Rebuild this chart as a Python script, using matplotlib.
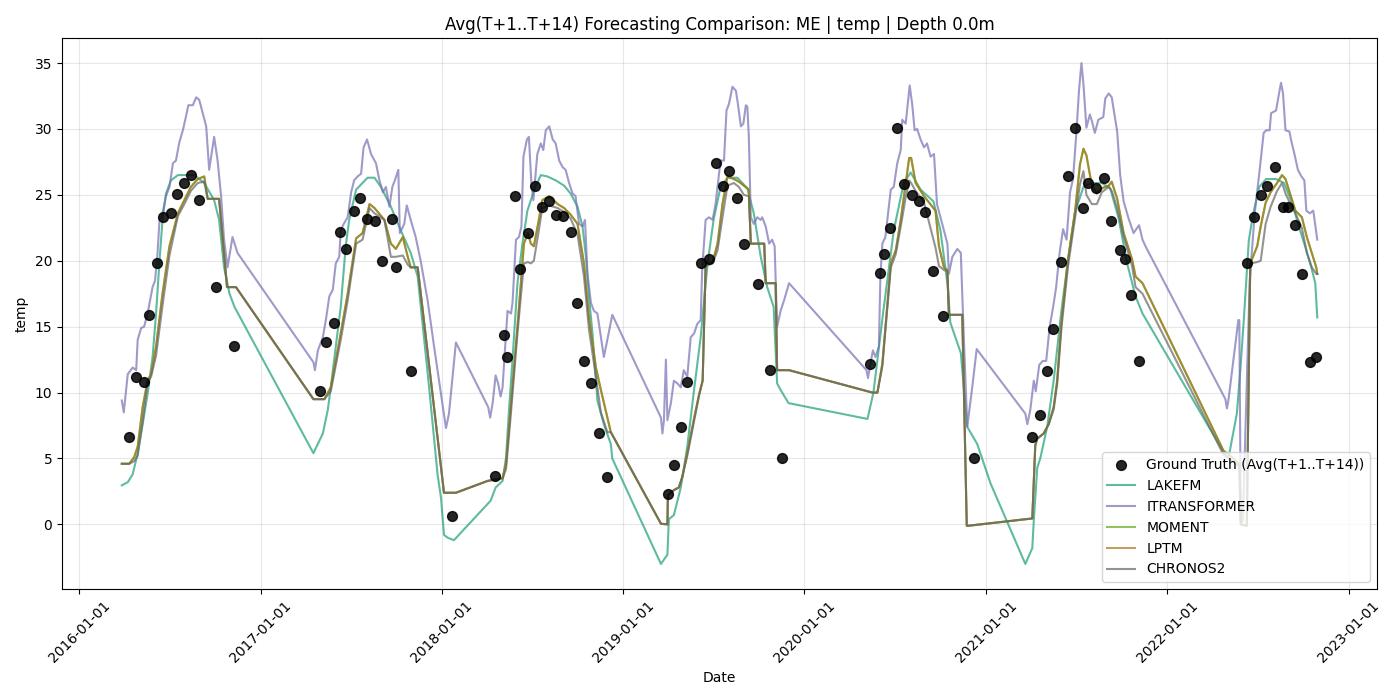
import numpy as np
import matplotlib
matplotlib.use("Agg")
import matplotlib.pyplot as plt
import matplotlib.dates as mdates

# ---------------- data ----------------
# Ground truth (Avg(T+1..T+14))
GT_DATES = ["2016-04-10", "2016-04-25", "2016-05-10", "2016-05-21", "2016-06-06", "2016-06-18",
            "2016-07-04", "2016-07-17", "2016-07-31", "2016-08-13", "2016-08-29", "2016-10-02",
            "2016-11-08",
            "2017-05-01", "2017-05-13", "2017-05-28", "2017-06-10", "2017-06-22", "2017-07-07",
            "2017-07-20", "2017-08-03", "2017-08-20", "2017-09-03", "2017-09-23", "2017-10-01",
            "2017-10-31",
            "2018-01-21", "2018-04-17", "2018-05-06", "2018-05-12", "2018-05-28", "2018-06-08",
            "2018-06-23", "2018-07-07", "2018-07-21", "2018-08-04", "2018-08-19", "2018-09-02",
            "2018-09-17", "2018-09-29", "2018-10-15", "2018-10-28", "2018-11-13", "2018-11-29",
            "2019-04-02", "2019-04-13", "2019-04-27", "2019-05-10", "2019-06-07", "2019-06-22",
            "2019-07-06", "2019-07-20", "2019-08-03", "2019-08-18", "2019-09-02", "2019-09-30",
            "2019-10-24", "2019-11-17",
            "2020-05-13", "2020-06-01", "2020-06-09", "2020-06-21", "2020-07-05", "2020-07-19",
            "2020-08-04", "2020-08-18", "2020-08-30", "2020-09-16", "2020-10-06", "2020-12-07",
            "2021-04-03", "2021-04-19", "2021-05-04", "2021-05-16", "2021-06-01", "2021-06-15",
            "2021-06-30", "2021-07-16", "2021-07-26", "2021-08-11", "2021-08-26", "2021-09-09",
            "2021-09-27", "2021-10-08", "2021-10-20", "2021-11-05",
            "2022-06-11", "2022-06-25", "2022-07-09", "2022-07-21", "2022-08-06", "2022-08-22",
            "2022-09-01", "2022-09-15", "2022-09-29", "2022-10-15", "2022-10-27"]
GT_VALS = [6.6, 11.2, 10.8, 15.9, 19.8, 23.3, 23.6, 25.1, 25.9, 26.5, 24.6, 18.0, 13.5,
           10.1, 13.8, 15.3, 22.2, 20.9, 23.8, 24.8, 23.2, 23.0, 20.0, 23.2, 19.5, 11.6,
           0.6, 3.7, 14.4, 12.7, 24.9, 19.4, 22.1, 25.7, 24.1, 24.5, 23.5, 23.4, 22.2, 16.8,
           12.4, 10.7, 6.9, 3.6,
           2.3, 4.5, 7.4, 10.8, 19.8, 20.1, 27.4, 25.7, 26.8, 24.8, 21.3, 18.2, 11.7, 5.0,
           12.2, 19.1, 20.5, 22.5, 30.1, 25.8, 25.0, 24.5, 23.7, 19.2, 15.8, 5.0,
           6.6, 8.3, 11.6, 14.8, 19.9, 26.4, 30.1, 24.0, 25.9, 25.5, 26.3, 23.0, 20.8, 20.1,
           17.4, 12.4,
           19.8, 23.3, 25.0, 25.7, 27.1, 24.1, 24.1, 22.7, 19.0, 12.3, 12.7]

# Forecast series: dates given as days since 2016-01-01
START_DATE = "2016-01-01"

LAKEFM_DAYS = [86, 98, 108, 118, 128, 138, 148, 155, 162, 168, 175, 185, 199, 232, 252, 272, 282, 292, 303, 313,
               472, 491, 501, 507, 517, 527, 537, 544, 558, 581, 595, 608, 628, 648, 668, 682, 705, 722, 729, 735,
               742, 755,
               829, 839, 853, 860, 866, 873, 883, 893, 903, 917, 930, 943, 960, 977, 990, 1004, 1014, 1021, 1027,
               1034, 1044, 1057, 1071, 1074,
               1172, 1185, 1188, 1198, 1212, 1225, 1238, 1252, 1266, 1278, 1292, 1306, 1326, 1346, 1359, 1373,
               1386, 1399, 1406, 1413, 1429,
               1588, 1600, 1620, 1641, 1661, 1675, 1695, 1721, 1735, 1749, 1755, 1776, 1789, 1809, 1836, 1906,
               1920, 1923,
               1930, 1936, 1950, 1963, 1978, 1992, 2006, 2023, 2040, 2060, 2077, 2094, 2111, 2128, 2142,
               2305, 2315, 2332, 2339, 2346, 2351, 2356, 2364, 2377, 2391, 2411, 2427, 2444, 2457, 2472, 2482,
               2490, 2494]
LAKEFM_VALS = [2.96, 3.2, 3.8, 5.4, 7.6, 9.9, 12.7, 16.0, 20.0, 23.1, 25.1, 26.1, 26.5, 26.5, 25.9, 24.6, 23.1,
               19.5, 17.5, 16.5,
               5.4, 6.9, 8.7, 10.4, 13.5, 16.5, 21.1, 23.1, 25.4, 26.3, 26.3, 25.6, 24.1, 22.3, 20.6, 18.8, 10.4,
               3.8, 2.0, -0.8, -1.0, -1.2,
               1.8, 2.8, 3.3, 5.1, 8.7, 12.5, 18.3, 21.3, 23.8, 25.4, 26.5, 26.4, 26.1, 25.7, 25.1, 24.1, 22.6,
               20.3, 17.3, 14.5, 9.4, 7.6, 6.1, 5.0,
               -3.0, -2.3, 0.4, 0.7, 2.8, 5.9, 10.0, 14.2, 19.8, 23.1, 25.6, 26.3, 26.3, 25.5, 23.6, 20.3, 18.0,
               16.5, 10.7, 10.2, 9.2,
               8.0, 10.0, 16.2, 22.3, 25.9, 26.7, 25.4, 24.5, 22.3, 18.3, 15.3, 13.0, 7.4, 6.1, 3.1, -3.0, -1.8,
               0.3,
               4.3, 5.0, 7.4, 10.9, 16.0, 20.1, 23.7, 25.6, 25.9, 25.9, 25.5, 23.2, 19.8, 17.3, 16.0,
               5.5, 5.0, 8.4, 11.7, 15.5, 18.5, 21.5, 23.4, 25.6, 26.2, 26.2, 25.9, 24.3, 22.6, 20.8, 19.5,
               18.3, 15.7]

ITRANS_DAYS = [86, 90, 98, 108, 115, 118, 125, 131, 138, 148, 153, 158, 162, 168, 175, 182, 189, 195, 202, 209,
               215, 220, 229, 236, 242, 249, 256, 259, 262, 266, 272, 279, 286, 292, 299, 309, 319,
               472, 475, 481, 491, 497, 504, 511, 517, 524, 527, 533, 541, 548, 554, 561, 568, 573, 580, 588,
               598, 605, 612, 618, 625, 631, 636, 643, 646, 655, 660, 668, 678, 688, 702, 715, 729, 739, 745, 759,
               824, 828, 833, 839, 844, 849, 853, 856, 863, 870, 873, 880, 886, 891, 895, 902, 906, 911, 915,
               923, 930, 935, 940, 947, 954, 960, 967, 974, 980, 987, 994, 1000, 1007, 1014, 1019, 1024, 1031,
               1037, 1044, 1051, 1057, 1064, 1074,
               1172, 1175, 1178, 1182, 1185, 1192, 1198, 1205, 1212, 1218, 1225, 1232, 1239, 1245, 1252, 1255,
               1262, 1269, 1276, 1282, 1292, 1299, 1304, 1309, 1316, 1323, 1327, 1333, 1338, 1343, 1346, 1349,
               1353, 1359, 1366, 1373, 1376, 1383, 1390, 1396, 1401, 1406, 1413, 1420, 1430,
               1586, 1589, 1594, 1599, 1604, 1611, 1614, 1618, 1624, 1635, 1641, 1648, 1655, 1658, 1665, 1673,
               1678, 1683, 1688, 1695, 1702, 1708, 1715, 1722, 1728, 1735, 1742, 1749, 1752, 1759, 1769, 1776,
               1782, 1789, 1799, 1808, 1906, 1910, 1916, 1923,
               1927, 1934, 1941, 1948, 1955, 1962, 1968, 1975, 1982, 1989, 1996, 2002, 2009, 2014, 2019, 2023,
               2029, 2036, 2040, 2046, 2053, 2063, 2067, 2074, 2080, 2091, 2097, 2104, 2114, 2124, 2135, 2142,
               2148,
               2309, 2312, 2315, 2335, 2337, 2340, 2344, 2358, 2368, 2378, 2386, 2391, 2398, 2401, 2411, 2417,
               2421, 2425, 2430, 2438, 2441, 2448, 2455, 2462, 2468, 2472, 2479, 2486, 2494]
ITRANS_VALS = [9.4, 8.5, 11.4, 11.9, 11.7, 14.0, 14.9, 15.0, 16.0, 18.0, 18.5, 20.6, 23.1, 23.6, 24.9, 25.6,
               27.4, 27.6, 29.0, 29.9, 30.9, 31.8, 31.8, 32.4, 32.2, 31.2, 30.2, 28.6, 26.9, 27.9, 29.4, 27.6,
               24.9, 21.6, 19.5, 21.8, 20.6,
               12.3, 11.7, 13.2, 14.2, 15.5, 17.3, 17.8, 19.8, 20.3, 22.3, 22.8, 23.3, 25.2, 26.1, 26.4, 26.6,
               28.6, 29.2, 28.1, 27.4, 26.1, 25.2, 25.6, 24.1, 25.6, 26.1, 26.9, 22.1, 22.8, 24.2, 23.1, 21.8,
               20.0, 17.0, 13.5, 9.9, 7.3, 8.4, 13.8,
               8.9, 8.1, 9.2, 11.3, 10.7, 9.7, 10.4, 12.2, 16.2, 16.0, 16.8, 21.6, 21.8, 22.6, 27.9, 29.2, 29.4,
               25.9, 24.6, 28.1, 28.9, 28.4, 29.9, 30.2, 29.2, 28.9, 27.6, 27.1, 26.9, 25.9, 25.1, 24.9, 22.8,
               22.6, 23.1, 19.0, 16.8, 16.2, 16.0, 14.2, 12.7, 14.0, 15.9,
               8.1, 6.9, 7.9, 12.5, 7.9, 9.2, 10.9, 10.7, 10.4, 11.7, 11.2, 14.2, 14.5, 15.2, 15.5, 19.3, 23.1,
               23.3, 23.1, 24.3, 27.6, 27.6, 31.4, 31.9, 33.2, 32.9, 31.9, 30.2, 30.4, 31.8, 31.7, 29.4, 23.3,
               22.8, 23.3, 23.1, 23.3, 22.6, 21.3, 21.6, 21.1, 15.0, 16.2, 17.0, 18.3,
               11.7, 11.1, 12.2, 13.2, 12.7, 13.5, 18.8, 21.3, 21.8, 25.4, 25.6, 27.4, 28.4, 30.7, 30.4, 33.3,
               31.9, 29.9, 30.0, 29.2, 28.6, 28.9, 27.9, 28.1, 24.3, 23.3, 22.3, 21.3, 19.0, 20.3, 20.9, 20.6,
               14.2, 7.4, 10.4, 13.3, 8.4, 7.6, 8.7, 10.9,
               10.1, 12.1, 12.4, 12.4, 15.0, 16.5, 18.0, 20.6, 22.4, 21.6, 25.2, 26.2, 29.8, 32.9, 35.0, 33.4,
               30.1, 31.1, 30.6, 29.7, 30.7, 30.9, 32.3, 32.7, 32.4, 29.8, 26.5, 24.5, 23.2, 22.1, 22.7, 21.6,
               21.1,
               9.5, 8.8, 9.4, 15.5, 15.5, 0.2, 0.2, 18.5, 23.6, 26.9, 29.7, 29.9, 29.9, 31.2, 31.4, 32.7,
               33.5, 32.7, 29.9, 29.8, 29.2, 28.1, 26.9, 26.4, 26.1, 23.8, 23.6, 23.8, 21.6]

# MOMENT, LPTM and CHRONOS2 share the same forecast dates
FM_DAYS = [86, 101, 111, 118, 128, 138, 145, 155, 168, 182, 199, 212, 225, 239, 252, 259, 282, 298, 316,
           472, 494, 507, 527, 541, 558, 571, 585, 595, 615, 628, 638, 652, 662, 668, 682, 735, 759,
           823, 853, 860, 870, 883, 896, 904, 910, 916, 926, 933, 947, 964, 977, 990, 1004, 1017, 1027, 1041,
           1051, 1064, 1071,
           1172, 1185, 1186, 1198, 1208, 1215, 1225, 1239, 1249, 1256, 1262, 1276, 1286, 1296, 1306, 1319,
           1329, 1339, 1349, 1353, 1380, 1383, 1403, 1406, 1430,
           1598, 1608, 1618, 1635, 1645, 1655, 1665, 1672, 1676, 1685, 1702, 1725, 1732, 1742, 1749, 1752,
           1779, 1788, 1792, 1920,
           1926, 1930, 1943, 1953, 1963, 1970, 1979, 1992, 2006, 2016, 2023, 2029, 2040, 2050, 2060, 2074,
           2080, 2091, 2104, 2121, 2128, 2142,
           2305, 2319, 2337, 2340, 2352, 2359, 2373, 2380, 2390, 2400, 2413, 2423, 2430, 2440, 2450, 2463,
           2473, 2483, 2492, 2494]
LPTM_VALS = [4.6, 4.6, 5.1, 5.9, 8.9, 10.9, 11.4, 13.5, 17.5, 21.1, 23.6, 24.6, 25.6, 26.2, 26.4, 24.7, 24.7,
             18.0, 18.0,
             9.5, 9.5, 10.4, 14.5, 17.5, 21.7, 22.1, 24.3, 24.0, 23.1, 21.3, 20.9, 21.8, 20.3, 19.5, 19.5, 2.4,
             2.4,
             3.3, 3.5, 4.6, 9.2, 15.0, 21.3, 22.1, 21.3, 21.1, 23.1, 24.6, 24.9, 24.3, 24.0, 23.5, 22.8, 19.8,
             15.7, 11.9, 10.2, 8.1, 7.0,
             0.05, 0.0, 2.2, 2.6, 2.8, 3.6, 5.4, 8.1, 9.9, 10.9, 19.8, 19.9, 21.3, 24.3, 26.4, 26.2, 26.0, 25.7,
             25.4, 21.3, 21.3, 18.3, 18.3, 11.7, 11.7,
             10.0, 10.0, 12.2, 19.8, 20.8, 23.1, 25.9, 27.8, 27.8, 25.9, 24.9, 23.8, 21.1, 19.5, 19.3, 15.9,
             15.9, -0.1, -0.1, 0.45,
             6.0, 6.5, 6.9, 7.6, 8.9, 10.9, 15.5, 20.1, 23.7, 27.3, 28.5, 28.0, 25.7, 25.1, 25.5, 25.7, 26.0,
             24.7, 22.1, 20.1, 18.8, 18.3,
             5.6, 5.2, 4.6, 0.0, -0.1, 19.8, 21.1, 22.6, 24.4, 25.2, 25.9, 26.5, 26.2, 25.0, 23.8, 23.3, 21.8,
             20.6, 19.5, 19.0]
MOMENT_VALS = list(LPTM_VALS)
CHRONOS2_VALS = [4.6, 4.6, 4.8, 5.2, 7.8, 10.8, 11.2, 12.8, 16.6, 20.4, 23.4, 24.3, 25.3, 25.9, 26.0, 24.7,
                 24.7, 18.0, 18.0,
                 9.5, 9.5, 10.1, 14.0, 17.0, 21.3, 21.6, 24.0, 23.6, 23.1, 20.3, 20.3, 20.4, 19.7, 19.5, 19.5,
                 2.4, 2.4,
                 3.3, 3.5, 4.2, 8.5, 14.5, 19.8, 19.9, 19.8, 20.0, 22.3, 24.0, 24.2, 24.0, 23.7, 23.2, 22.0,
                 18.8, 14.8, 11.2, 8.5, 7.0, 7.0,
                 0.05, 0.0, 2.2, 2.6, 2.8, 3.6, 5.2, 7.9, 9.8, 10.9, 19.6, 19.8, 20.8, 23.3, 25.7, 25.9, 25.6,
                 25.0, 24.9, 21.3, 21.3, 18.3, 18.3, 11.7, 11.7,
                 10.0, 10.0, 12.0, 19.5, 20.5, 22.6, 24.8, 26.1, 25.9, 25.3, 24.4, 21.0, 19.6, 19.3, 19.2, 15.9,
                 15.9, -0.1, -0.1, 0.45,
                 6.0, 6.5, 6.9, 7.6, 8.7, 10.6, 15.0, 19.6, 23.2, 25.8, 26.8, 25.0, 24.3, 24.3, 25.2, 25.6,
                 25.3, 24.0, 21.8, 19.6, 18.0, 17.5,
                 5.3, 4.9, 4.4, 0.0, -0.1, 19.8, 19.9, 20.0, 22.8, 24.1, 25.3, 25.9, 25.1, 24.3, 23.6, 22.5,
                 20.6, 19.5, 19.0, 19.0]

MODEL_NAMES = ["LAKEFM", "ITRANSFORMER", "MOMENT", "LPTM", "CHRONOS2"]
MODEL_COLORS = ["#1b9e77", "#7570b3", "#66a61e", "#a6761d", "#666666"]


def to_dates(days):
    return np.datetime64(START_DATE) + np.array(days, dtype="timedelta64[D]")


# ---------------- plot ----------------
fig, ax = plt.subplots(figsize=(14, 7), dpi=100)
fig.subplots_adjust(left=0.0443, right=0.9836, bottom=0.1586, top=0.9457)

ax.scatter(np.array(GT_DATES, dtype="datetime64[D]"), GT_VALS, s=50, color="black", alpha=0.85,
           label="Ground Truth (Avg(T+1..T+14))", zorder=3)

series = [(LAKEFM_DAYS, LAKEFM_VALS), (ITRANS_DAYS, ITRANS_VALS), (FM_DAYS, MOMENT_VALS),
          (FM_DAYS, LPTM_VALS), (FM_DAYS, CHRONOS2_VALS)]
for name, color, (d, v) in zip(MODEL_NAMES, MODEL_COLORS, series):
    ax.plot(to_dates(d), v, color=color, alpha=0.7, lw=1.5, label=name)

ax.set_title("Avg(T+1..T+14) Forecasting Comparison: ME | temp | Depth 0.0m", fontsize=12)
ax.set_xlabel("Date")
ax.set_ylabel("temp")
ax.xaxis.set_major_locator(mdates.YearLocator())
ax.xaxis.set_major_formatter(mdates.DateFormatter("%Y-%m-%d"))
plt.setp(ax.get_xticklabels(), rotation=45)
ax.grid(True, alpha=0.3)
ax.legend(loc="lower right")

fig.savefig("out.png", dpi=100)
